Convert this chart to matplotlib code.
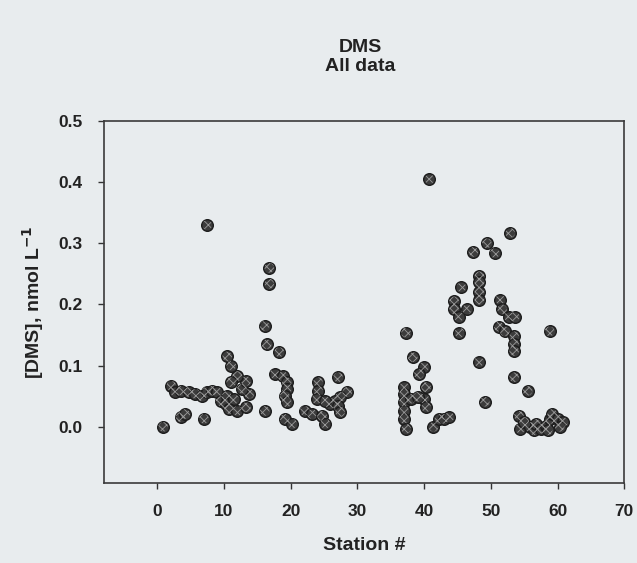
import matplotlib
matplotlib.use("Agg")
import matplotlib.pyplot as plt

# station number and DMS concentration (nmol/L)
stations = [
    0.9, 3.5, 4.2, 7.0, 7.5,
    2.1, 2.7, 3.6, 4.7, 5.7, 6.7, 7.4, 8.2, 9.0,
    9.5, 10.4, 10.3, 10.8, 12.0, 13.3, 13.8, 12.7, 13.3, 12.0, 11.1, 10.5, 11.1, 11.5,
    16.8, 16.8, 16.1, 16.4, 18.3, 17.6, 18.8, 19.4, 19.4, 19.1, 19.4, 16.1, 19.1, 20.2,
    24.1, 24.1, 23.9, 27.1, 28.5, 27.4, 26.7, 25.9, 25.2, 27.1, 27.4, 22.1, 23.2, 24.7, 25.2,
    37.3, 38.3, 40.0, 39.2, 40.3, 40.0, 40.3, 37.0, 37.0, 37.0, 37.0, 37.0, 37.3, 38.0, 39.1,
    41.4, 42.3, 43.0, 43.8, 40.8,
    52.9, 47.4, 49.4, 50.6, 48.3, 48.3, 48.3, 48.3, 45.6, 44.5, 44.5, 46.4, 45.2, 45.3,
    51.4, 51.7, 52.7, 53.6, 51.2, 52.1, 53.5, 53.5, 53.5, 58.8, 48.2, 53.5, 55.5, 49.1,
    54.2, 54.4, 55.0, 55.8, 56.5, 56.7, 57.5, 58.2, 58.5, 58.9, 59.2, 60.0, 60.8, 60.3,
]
dms = [
    0.000, 0.016, 0.021, 0.013, 0.330,
    0.067, 0.057, 0.059, 0.057, 0.054, 0.050, 0.057, 0.059, 0.057,
    0.042, 0.050, 0.037, 0.029, 0.026, 0.032, 0.054, 0.062, 0.075, 0.083, 0.100, 0.115, 0.073, 0.045,
    0.260, 0.234, 0.165, 0.135, 0.122, 0.086, 0.083, 0.073, 0.062, 0.050, 0.040, 0.026, 0.013, 0.005,
    0.073, 0.059, 0.045, 0.081, 0.057, 0.049, 0.042, 0.037, 0.042, 0.034, 0.024, 0.026, 0.021, 0.018, 0.005,
    0.154, 0.114, 0.098, 0.086, 0.065, 0.046, 0.032, 0.065, 0.054, 0.041, 0.026, 0.013, -0.003, 0.046, 0.049,
    0.000, 0.013, 0.013, 0.016, 0.405,
    0.317, 0.286, 0.300, 0.284, 0.246, 0.236, 0.221, 0.208, 0.228, 0.205, 0.192, 0.192, 0.180, 0.154,
    0.208, 0.192, 0.180, 0.180, 0.164, 0.156, 0.148, 0.135, 0.124, 0.156, 0.106, 0.081, 0.059, 0.041,
    0.018, -0.003, 0.008, 0.000, -0.006, 0.005, -0.003, 0.002, -0.006, 0.013, 0.021, 0.013, 0.008, 0.000,
]

x_ticks = [0, 10, 20, 30, 40, 50, 60, 70]
y_ticks = [0.0, 0.1, 0.2, 0.3, 0.4, 0.5]

bg = "#e8ecee"
ink = "#222222"
plt.rcParams["font.family"] = ["Liberation Sans", "DejaVu Sans"]
plt.rcParams["hatch.linewidth"] = 0.6

fig = plt.figure(figsize=(6.37, 5.63), dpi=100, facecolor=bg)
ax = fig.add_axes([0.163, 0.142, 0.817, 0.643], facecolor=bg)

# dark dots with a lighter cross-hatch, like the printed symbols
ax.scatter(stations, dms, s=70, facecolor="#3c3c3c", edgecolor="#1c1c1c",
           linewidth=1.0, zorder=3)
ax.scatter(stations, dms, s=48, facecolor="none", edgecolor="#9a9a9a",
           hatch="xxxx", linewidth=0, zorder=4)

ax.set_xlim(-8, 70)
ax.set_ylim(-0.092, 0.5)
ax.set_xticks(x_ticks)
ax.set_yticks(y_ticks)
ax.set_yticklabels([f"{v:.1f}" for v in y_ticks])
ax.tick_params(direction="out", length=4, width=1, color="#333333",
               labelsize=12.5, labelcolor=ink)
ax.tick_params(axis="x", pad=11)
ax.tick_params(axis="y", pad=11)
for lab in ax.get_xticklabels() + ax.get_yticklabels():
    lab.set_fontweight("bold")
for sp in ax.spines.values():
    sp.set_color("#3a3a3a")
    sp.set_linewidth(1.2)

ax.set_xlabel("Station #", fontsize=14, fontweight="bold", color=ink, labelpad=13)
ax.set_ylabel("[DMS], nmol L$^{\\mathbf{-1}}$", fontsize=14, fontweight="bold",
              color=ink, labelpad=9)

fig.text(0.565, 0.915, "DMS", ha="center", va="center", fontsize=14,
         fontweight="bold", color=ink)
fig.text(0.565, 0.881, "All data", ha="center", va="center", fontsize=14,
         fontweight="bold", color=ink)

fig.savefig("out.png", dpi=100, facecolor=bg)
